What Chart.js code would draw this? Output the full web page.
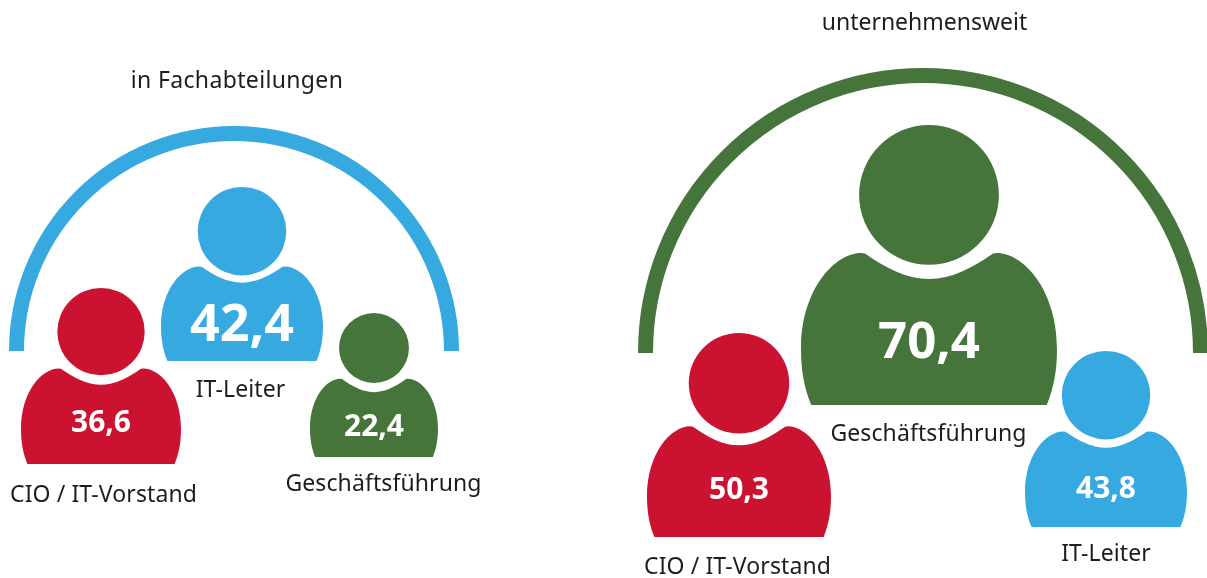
<!DOCTYPE html>
<html>
<head>
<meta charset="utf-8">
<style>
  html, body { margin: 0; padding: 0; background: #fff; }
  canvas { display: block; }
</style>
<script src="https://cdn.jsdelivr.net/npm/chart.js@4"></script>
</head>
<body>
<canvas id="personChart" width="1207" height="578"></canvas>
<script>
// values
const roles = ['CIO / IT-Vorstand', 'IT-Leiter', 'Geschäftsführung'];
const groupTitles = ['in Fachabteilungen', 'unternehmensweit'];
const fachValues = [36.6, 42.4, 22.4];
const weitValues = [50.3, 43.8, 70.4];

// colours per role
const roleColors = ['#cb1230', '#36a9e1', '#46753c'];
const groupColors = ['#36a9e1', '#46753c'];
const textColor = '#1d1d1b';
const fontName = '"Noto Sans", sans-serif';

// layout, in axis units (1 unit = 1px on this canvas)
const fachX = [101, 242, 374];
const fachBottom = [464, 361, 457];
const fachW = [160, 162, 128];
const fachH = [176, 174, 144];
const fachValueBase = [432, 341, 436];
const fachValueSize = [30, 52, 30];
const fachLabelX = [103.5, 240.5, 383.5];
const fachLabelBase = [502, 397, 491];

const weitX = [739, 1106, 929];
const weitBottom = [537, 527, 405];
const weitW = [184, 162, 256];
const weitH = [204, 176, 280];
const weitValueBase = [499, 498, 358];
const weitValueSize = [30, 30, 51];
const weitLabelX = [737.5, 1106, 928.5];
const weitLabelBase = [574, 561, 441];

const arcX = [234, 923];
const arcY = [351, 353];
const arcR = [217.5, 277.5];
const titleX = [237, 924.5];
const titleBase = [88, 30];
const titleSpacing = ['0.35px', '0px'];

function personSprite(w, h, color) {
  const c = document.createElement('canvas');
  c.width = w;
  c.height = h;
  const g = c.getContext('2d');
  const cx = w / 2;
  const X = v => cx + v * w;
  const Y = v => h - v * h;
  const r = 0.273 * w;
  g.fillStyle = color;
  g.beginPath();
  g.arc(cx, r, r, 0, Math.PI * 2);
  g.fill();
  g.beginPath();
  g.moveTo(X(-0.46), Y(0));
  g.bezierCurveTo(X(-0.487), Y(0.06), X(-0.5), Y(0.12), X(-0.5), Y(0.2));
  g.bezierCurveTo(X(-0.5), Y(0.41), X(-0.37), Y(0.543), X(-0.265), Y(0.543));
  g.lineTo(X(-0.25), Y(0.541));
  g.bezierCurveTo(X(-0.17), Y(0.49), X(-0.09), Y(0.45), X(0), Y(0.45));
  g.bezierCurveTo(X(0.09), Y(0.45), X(0.17), Y(0.49), X(0.25), Y(0.541));
  g.lineTo(X(0.265), Y(0.543));
  g.bezierCurveTo(X(0.37), Y(0.543), X(0.5), Y(0.41), X(0.5), Y(0.2));
  g.bezierCurveTo(X(0.5), Y(0.12), X(0.487), Y(0.06), X(0.46), Y(0));
  g.closePath();
  g.fill();
  return c;
}

function personDataset(values, xs, bottoms, widths, heights, valueBase, valueSize, labelX, labelBase) {
  return {
    data: values.map((v, i) => ({ x: xs[i], y: bottoms[i] - heights[i] / 2, value: v })),
    pointStyle: values.map((v, i) => personSprite(widths[i], heights[i], roleColors[i])),
    pointRadius: 1,
    clip: false,
    valueBase, valueSize, labelX, labelBase
  };
}

const personLabels = {
  id: 'personLabels',
  beforeDatasetsDraw(chart) {
    const { ctx, scales } = chart;
    ctx.save();
    ctx.lineCap = 'butt';
    arcX.forEach((x, i) => {
      ctx.strokeStyle = groupColors[i];
      ctx.lineWidth = 15;
      ctx.beginPath();
      ctx.arc(scales.x.getPixelForValue(x), scales.y.getPixelForValue(arcY[i]), arcR[i], Math.PI, Math.PI * 2);
      ctx.stroke();
    });
    ctx.restore();
  },
  afterDatasetsDraw(chart) {
    const { ctx, scales } = chart;
    ctx.save();
    ctx.textAlign = 'center';
    ctx.textBaseline = 'alphabetic';

    groupTitles.forEach((t, i) => {
      ctx.fillStyle = textColor;
      ctx.font = '23px ' + fontName;
      ctx.letterSpacing = titleSpacing[i];
      ctx.fillText(t, scales.x.getPixelForValue(titleX[i]), scales.y.getPixelForValue(titleBase[i]));
    });

    chart.data.datasets.forEach((ds, d) => {
      chart.getDatasetMeta(d).data.forEach((pt, i) => {
        const text = ds.data[i].value.toFixed(1).replace('.', ',');
        ctx.letterSpacing = '0px';
        ctx.fillStyle = '#fff';
        ctx.font = 'bold ' + ds.valueSize[i] + 'px ' + fontName;
        ctx.fillText(text, pt.x, scales.y.getPixelForValue(ds.valueBase[i]));
        ctx.letterSpacing = '0.1px';
        ctx.fillStyle = textColor;
        ctx.font = '23px ' + fontName;
        ctx.fillText(roles[i], scales.x.getPixelForValue(ds.labelX[i]), scales.y.getPixelForValue(ds.labelBase[i]));
      });
    });
    ctx.restore();
  }
};

new Chart(document.getElementById('personChart'), {
  type: 'scatter',
  data: {
    datasets: [
      personDataset(fachValues, fachX, fachBottom, fachW, fachH, fachValueBase, fachValueSize, fachLabelX, fachLabelBase),
      personDataset(weitValues, weitX, weitBottom, weitW, weitH, weitValueBase, weitValueSize, weitLabelX, weitLabelBase)
    ]
  },
  options: {
    responsive: false,
    animation: false,
    events: [],
    layout: { padding: 0, autoPadding: false },
    scales: {
      x: { type: 'linear', display: false, min: 0, max: 1207 },
      y: { type: 'linear', display: false, min: 0, max: 578, reverse: true }
    },
    plugins: { legend: { display: false }, tooltip: { enabled: false } }
  },
  plugins: [personLabels]
});
</script>
</body>
</html>
